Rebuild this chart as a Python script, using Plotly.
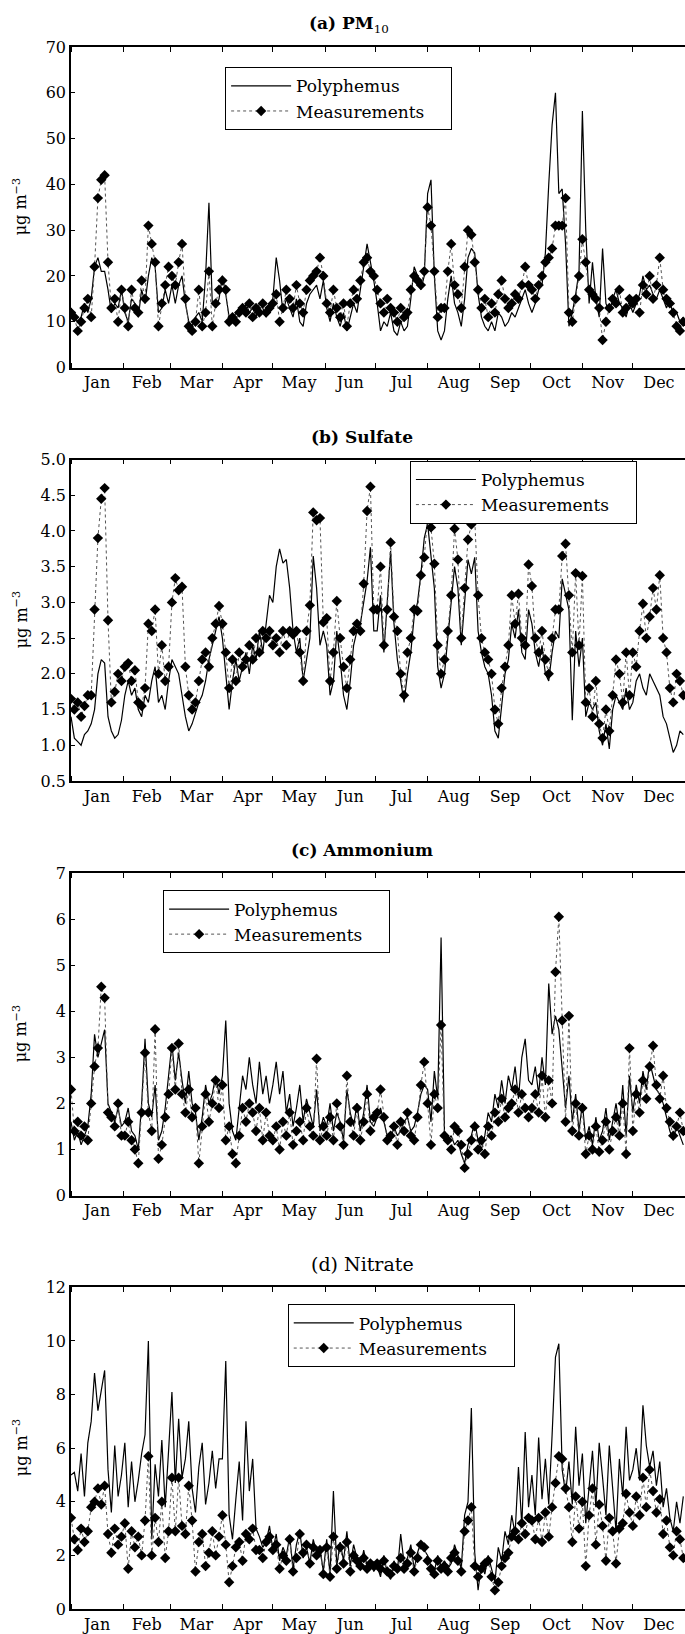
import pandas as pd
import plotly.graph_objects as go
from plotly.subplots import make_subplots

FONT = "DejaVu Serif"

# one value every second day, 1 Jan -> 31 Dec
days = pd.date_range("2005-01-01", "2005-12-31", freq="2D")

# ---- (a) PM10 ----
pm10_model = [
    13, 11, 10, 11, 14, 12, 15, 22, 24, 21, 21, 17, 12, 14, 13, 17,
    12, 10, 15, 14, 11, 17, 14, 20, 24, 22, 12, 13, 17, 14,
    18, 14, 18, 20, 14, 10, 9, 11, 12, 10, 20, 36, 14, 13, 15,
    20, 16, 11, 10, 12, 13, 12, 14, 12, 13, 11, 14, 13, 11, 14,
    15, 24, 19, 12, 15, 13, 11, 15, 10, 9, 14, 16, 17, 18, 15, 19,
    13, 10, 14, 11, 9, 12, 8, 11, 14, 12, 17, 21, 27, 23, 19,
    14, 8, 10, 9, 12, 8, 7, 10, 8, 9, 15, 22, 20, 17, 20,
    38, 41, 20, 8, 6, 8, 15, 20, 14, 12, 9, 15, 24, 26, 25, 16,
    11, 9, 8, 10, 8, 12, 11, 9, 10, 12, 11, 13, 15, 17, 14,
    12, 14, 17, 18, 25, 40, 53, 60, 38, 39, 27, 9, 12, 16, 21,
    56, 30, 14, 23, 15, 11, 26, 14, 12, 15, 17, 14, 13, 11, 14,
    12, 14, 16, 20, 17, 18, 16, 15, 17, 15, 13, 15, 11, 12, 10, 11,
]
pm10_obs = [
    12, 11, 8, 10, 13, 15, 11, 22, 37, 41, 42, 23, 13, 15, 10, 17,
    13, 9, 17, 13, 12, 19, 15, 31, 27, 23, 9, 14, 18, 22,
    20, 18, 23, 27, 15, 9, 8, 10, 17, 9, 12, 21, 9, 14, 17,
    19, 17, 10, 11, 10, 12, 13, 12, 14, 11, 13, 12, 14, 12, 13,
    14, 16, 10, 13, 17, 15, 13, 18, 14, 12, 17, 19, 20, 21, 24, 20,
    14, 12, 17, 13, 11, 14, 9, 14, 17, 15, 19, 23, 24, 21, 20,
    17, 14, 12, 15, 13, 12, 10, 13, 11, 12, 17, 20, 19, 18, 21,
    35, 31, 21, 11, 13, 13, 21, 27, 18, 16, 13, 22, 30, 29, 23, 17,
    13, 15, 11, 14, 12, 16, 19, 15, 13, 14, 16, 15, 18, 22, 18,
    17, 15, 18, 20, 23, 24, 26, 31, 31, 31, 37, 12, 10, 15, 20,
    28, 23, 17, 16, 15, 13, 6, 10, 13, 15, 14, 17, 12, 13, 15,
    14, 15, 12, 18, 16, 20, 15, 18, 24, 17, 15, 14, 12, 9, 8, 10,
]

# ---- (b) Sulfate ----
so4_model = [
    1.4, 1.1, 1.05, 1.0, 1.15, 1.2, 1.3, 1.5, 2.0, 2.2, 2.15, 1.4, 1.2, 1.1, 1.15, 1.35,
    1.7, 1.9, 1.7, 1.8, 1.5, 1.4, 1.7, 1.6, 1.9, 2.1, 1.6, 1.7, 1.5, 1.9,
    2.2, 2.1, 2.0, 1.7, 1.4, 1.2, 1.3, 1.45, 1.6, 1.7, 1.9, 2.2, 2.4, 2.6, 2.8,
    2.5, 2.0, 1.5, 1.9, 2.2, 1.9, 2.1, 2.3, 2.0, 2.4, 2.2, 2.6, 2.3, 2.7, 3.1,
    3.0, 3.5, 3.75, 3.55, 3.6, 3.2, 2.6, 2.3, 2.5, 1.9, 2.2, 2.5, 3.65, 3.2, 2.4, 2.6,
    2.4, 1.7, 1.9, 2.6, 2.2, 1.7, 1.5, 1.9, 2.4, 2.6, 2.7, 3.0, 3.3, 3.77, 2.6,
    2.6, 3.1, 2.3, 3.0, 3.72, 2.7, 2.2, 1.9, 1.6, 2.0, 2.3, 2.8, 3.0, 3.4, 3.9,
    4.1, 3.6, 3.2, 2.1, 1.8, 2.0, 2.5, 2.9, 3.5, 3.2, 2.4, 3.0, 3.6, 3.4, 3.63, 2.6,
    2.3, 2.1, 2.0, 1.7, 1.2, 1.1, 1.6, 2.0, 2.2, 2.7, 2.5, 2.9, 2.3, 2.2, 2.9,
    2.7, 2.3, 2.1, 2.4, 2.0, 1.9, 2.3, 2.6, 2.5, 3.33, 3.1, 2.9, 1.35, 2.6, 2.1,
    2.5, 1.4, 1.6, 1.5, 1.6, 1.2, 1.0, 1.3, 0.95, 1.5, 1.7, 1.6, 1.5, 1.8, 1.5,
    1.6, 1.9, 2.0, 1.8, 1.7, 2.0, 1.9, 1.8, 1.7, 1.4, 1.3, 1.1, 0.9, 1.0, 1.2, 1.15,
]
so4_obs = [
    1.65, 1.5, 1.6, 1.4, 1.55, 1.7, 1.7, 2.9, 3.9, 4.45, 4.6, 2.75, 1.6, 1.75, 2.0, 1.9,
    2.1, 2.15, 1.9, 2.05, 1.6, 1.55, 1.8, 2.7, 2.6, 2.9, 2.0, 2.4, 1.9, 2.1,
    3.0, 3.34, 3.17, 3.22, 2.1, 1.7, 1.5, 1.6, 1.9, 2.2, 2.3, 2.1, 2.5, 2.7, 2.95,
    2.7, 2.3, 1.8, 2.2, 1.9, 2.3, 2.1, 2.2, 2.4, 2.2, 2.5, 2.3, 2.6, 2.5, 2.6,
    2.4, 2.5, 2.3, 2.6, 2.4, 2.6, 2.55, 2.6, 2.3, 1.9, 2.6, 2.96, 4.26, 4.15, 4.18, 2.72,
    2.78, 1.9, 2.3, 3.02, 2.5, 2.1, 1.8, 2.2, 2.6, 2.7, 2.6, 3.26, 4.28, 4.62, 2.9,
    2.9, 3.5, 2.4, 2.9, 3.84, 2.8, 2.6, 2.0, 1.7, 2.3, 2.5, 2.9, 2.88, 3.38, 3.63,
    4.2, 4.05, 3.54, 2.4, 2.0, 2.2, 2.6, 3.1, 4.03, 3.6, 2.5, 3.2, 3.88, 4.09, 4.17, 3.1,
    2.5, 2.3, 2.2, 2.0, 1.5, 1.3, 1.8, 2.1, 2.4, 3.1, 2.7, 3.12, 2.5, 2.4, 3.53,
    3.23, 2.5, 2.3, 2.6, 2.2, 2.0, 2.5, 2.9, 2.9, 3.65, 3.82, 3.1, 2.3, 3.41, 2.4,
    3.37, 1.6, 1.8, 1.4, 1.9, 1.3, 1.1, 1.5, 1.2, 1.7, 2.2, 2.0, 1.6, 2.3, 1.7,
    2.3, 2.1, 2.6, 2.98, 2.5, 2.8, 3.2, 2.9, 3.38, 2.5, 2.3, 1.8, 1.6, 2.0, 1.9, 1.7,
]

# ---- (c) Ammonium ----
nh4_model = [
    1.6, 1.2, 1.4, 1.1, 1.3, 1.5, 2.2, 3.5, 3.0, 3.3, 3.6, 2.0, 1.8, 1.6, 1.9, 1.5,
    1.6, 1.9, 1.4, 1.3, 1.0, 2.0, 3.4, 2.0, 1.7, 2.4, 1.2, 1.4, 1.9, 2.6,
    3.3, 2.5, 3.1, 2.5, 2.0, 2.7, 2.0, 1.8, 1.2, 1.7, 2.4, 2.0, 2.2, 2.6, 2.2,
    2.6, 3.8, 2.0, 1.4, 1.2, 1.9, 2.6, 2.3, 3.0, 2.4, 2.0, 2.9, 2.2, 2.6, 2.0,
    2.4, 2.9, 2.2, 2.7, 1.8, 2.2, 1.5, 1.9, 2.4, 1.6, 2.1, 1.8, 1.5, 2.3, 1.4, 1.7,
    1.5, 2.0, 1.4, 1.8, 1.6, 1.2, 2.3, 1.8, 1.5, 2.0, 1.4, 1.8, 2.4, 1.6, 1.5,
    1.7, 1.9, 1.6, 1.3, 1.2, 1.5, 1.3, 1.4, 1.6, 1.7, 1.4, 1.5, 1.8, 2.2, 2.4,
    2.3, 1.6, 2.7, 2.1, 5.6, 1.4, 1.2, 1.3, 1.1, 1.2, 0.9, 0.7, 1.1, 1.3, 1.6, 1.2,
    1.0, 1.3, 1.8, 1.6, 2.2, 1.9, 2.5, 2.0, 2.6, 2.3, 2.8, 2.1, 3.0, 3.4, 2.5,
    2.4, 2.8, 2.2, 3.0, 2.4, 4.6, 3.5, 3.9, 3.6, 2.8, 1.9, 2.6, 1.6, 2.2, 1.4,
    2.0, 1.2, 1.5, 1.1, 1.7, 1.2, 1.4, 1.9, 1.2, 1.6, 2.0, 1.5, 2.4, 1.3, 2.6,
    1.8, 2.4, 2.0, 2.7, 2.3, 2.9, 2.6, 2.3, 2.2, 2.0, 1.7, 1.4, 1.2, 1.5, 1.3, 1.1,
]
nh4_obs = [
    2.3, 1.4, 1.6, 1.3, 1.5, 1.2, 2.0, 2.8, 3.2, 4.53, 4.29, 1.8, 1.7, 1.5, 2.0, 1.3,
    1.3, 1.6, 1.2, 1.0, 0.7, 1.8, 3.1, 1.8, 1.4, 3.61, 0.8, 1.1, 1.7, 2.2,
    3.2, 2.3, 3.3, 2.2, 1.8, 2.3, 1.7, 1.9, 0.7, 1.5, 2.2, 1.6, 2.0, 2.5, 1.9,
    2.4, 1.2, 1.5, 0.9, 0.7, 1.3, 1.9, 1.6, 2.0, 1.8, 1.4, 1.9, 1.2, 1.8, 1.3,
    1.2, 1.5, 1.0, 1.6, 1.3, 1.8, 1.1, 1.4, 1.6, 1.2, 1.9, 1.5, 1.3, 2.97, 1.2, 1.5,
    1.3, 1.7, 1.2, 2.0, 1.5, 1.1, 2.6, 1.6, 1.3, 1.9, 1.2, 1.6, 2.2, 1.4, 1.7,
    1.8, 2.3, 1.7, 1.2, 1.3, 1.5, 1.1, 1.6, 1.4, 1.8, 1.3, 1.2, 1.7, 2.4, 2.9,
    2.0, 1.1, 2.2, 1.9, 3.7, 1.3, 1.2, 1.0, 1.5, 1.4, 1.1, 0.6, 0.9, 1.2, 1.5, 1.0,
    1.2, 0.9, 1.5, 1.3, 1.8, 1.6, 2.1, 1.7, 1.9, 2.0, 2.3, 1.8, 2.2, 1.9, 1.7,
    1.9, 2.2, 1.8, 2.6, 1.7, 2.5, 2.0, 4.85, 6.05, 3.8, 1.6, 3.9, 1.4, 2.0, 1.3,
    1.9, 0.9, 1.3, 1.0, 1.5, 0.95, 1.2, 1.6, 1.0, 1.4, 1.7, 1.3, 2.0, 0.9, 3.2,
    1.4, 2.2, 1.8, 2.5, 2.1, 2.8, 3.25, 2.4, 2.1, 2.6, 1.9, 1.6, 1.3, 1.5, 1.8, 1.4,
]

# ---- (d) Nitrate ----
no3_model = [
    5.0, 5.1, 4.4, 5.8, 4.2, 6.2, 7.0, 8.8, 7.4, 8.1, 8.9, 5.2, 3.6, 6.1, 4.2, 5.0,
    6.2, 3.8, 5.5, 4.0, 4.8, 5.8, 6.5, 10.0, 2.6, 5.4, 4.2, 6.3, 3.8, 5.9,
    8.1, 4.7, 7.1, 4.9, 5.6, 7.0, 4.5, 3.6, 5.3, 6.2, 3.9, 4.7, 5.9, 4.5, 5.6,
    5.6, 9.25, 3.5, 2.6, 4.1, 5.5, 3.3, 7.0, 4.4, 5.6, 3.0, 2.7, 2.3, 2.5, 3.1,
    2.2, 2.8, 1.8, 2.3, 2.0, 2.7, 1.5, 2.4, 2.9, 1.9, 2.3, 1.7, 2.6, 2.1, 2.3, 1.4,
    2.6, 1.3, 4.4, 1.6, 2.5, 1.8, 2.9, 1.6, 2.4, 1.9, 1.5, 2.2, 1.6, 1.8, 1.4,
    1.6, 1.2, 2.0, 1.3, 1.1, 1.8, 1.4, 2.8, 1.7, 1.9, 2.4, 1.5, 2.1, 2.5, 2.2,
    2.0, 1.6, 1.4, 2.0, 1.6, 1.8, 1.5, 1.7, 2.4, 2.0, 1.5, 3.5, 4.0, 7.5, 2.1, 0.7,
    1.7, 1.3, 2.0, 1.5, 1.0, 2.3, 1.8, 2.9, 2.4, 3.5, 2.8, 5.3, 3.1, 6.6, 3.8,
    5.0, 3.5, 6.4, 4.1, 5.6, 3.9, 6.5, 9.4, 9.9, 5.2, 4.3, 5.5, 3.9, 6.8, 4.6,
    5.8, 3.2, 4.6, 5.9, 3.8, 6.2, 4.9, 3.5, 6.1, 4.4, 2.9, 5.6, 4.2, 6.8, 4.8,
    5.2, 6.0, 4.8, 7.6, 6.1, 5.3, 5.9, 4.6, 5.5, 3.8, 4.5, 3.4, 2.9, 4.0, 3.2, 4.2,
]
no3_obs = [
    3.4, 2.6, 2.2, 3.0, 2.5, 2.9, 3.8, 4.0, 4.5, 3.9, 4.6, 2.8, 2.1, 3.0, 2.4, 2.7,
    3.2, 1.5, 2.9, 2.3, 2.7, 2.0, 3.3, 5.7, 2.0, 3.4, 2.5, 4.0, 1.9, 2.9,
    4.9, 2.9, 4.9, 3.1, 2.8, 4.6, 3.3, 1.4, 2.5, 2.8, 1.6, 2.1, 2.9, 2.0, 2.7,
    3.5, 2.4, 1.0, 1.6, 2.3, 2.5, 1.8, 2.8, 2.6, 3.0, 2.2, 2.2, 1.9, 2.5, 2.7,
    2.2, 2.4, 1.5, 2.0, 1.8, 2.6, 1.4, 1.9, 2.8, 2.1, 2.4, 1.7, 2.3, 2.0, 2.2, 1.3,
    2.3, 1.2, 2.7, 1.5, 2.3, 1.7, 2.5, 1.4, 2.0, 1.8, 1.6, 1.9, 1.5, 1.7, 1.6,
    1.7, 1.5, 1.8, 1.4, 1.3, 1.6, 1.5, 1.9, 1.5, 1.7, 2.1, 1.4, 1.9, 2.4, 2.3,
    1.8, 1.5, 1.3, 1.8, 1.5, 1.6, 1.4, 1.9, 2.1, 1.8, 1.4, 2.9, 3.3, 3.8, 1.6, 1.2,
    1.5, 1.7, 1.8, 1.2, 0.7, 1.0, 1.6, 1.9, 2.1, 2.7, 2.9, 2.6, 3.2, 2.8, 3.4,
    3.3, 2.6, 3.4, 2.5, 3.6, 2.7, 3.8, 4.7, 5.7, 5.6, 4.5, 3.8, 2.5, 4.2, 3.0,
    4.0, 1.6, 3.5, 4.5, 2.4, 3.9, 3.1, 1.8, 3.4, 2.9, 1.7, 3.0, 3.2, 4.3, 3.6,
    3.1, 4.2, 3.5, 4.9, 3.8, 5.2, 4.4, 3.6, 4.1, 2.8, 3.3, 2.3, 2.0, 2.9, 2.6, 1.9,
]

panels = [
    dict(title="<b>(a) PM</b><sub>10</sub>", tsize=17, tx=0.452,
         model=pm10_model, obs=pm10_obs, yrange=[0, 70], dtick=10, fmt=None),
    dict(title="<b>(b) Sulfate</b>", tsize=17, tx=0.474,
         model=so4_model, obs=so4_obs, yrange=[0.5, 5.0], dtick=0.5, fmt=".1f"),
    dict(title="<b>(c) Ammonium</b>", tsize=17, tx=0.474,
         model=nh4_model, obs=nh4_obs, yrange=[0, 7], dtick=1, fmt=None),
    dict(title="(d) Nitrate", tsize=19, tx=0.474,
         model=no3_model, obs=no3_obs, yrange=[0, 12], dtick=2, fmt=None),
]

# layout (paper fractions of the plotting area)
domains = [(0.7948, 1.0), (0.5301, 0.7359), (0.2647, 0.4712), (0.0, 0.2059)]
legend_xy = [(0.251, 0.987), (0.552, 0.735), (0.150, 0.460), (0.353, 0.195)]

fig = make_subplots(rows=4, cols=1)
tick_font = dict(family=FONT, size=16, color="black")
pad = "\u00a0" * 4

for i, p in enumerate(panels):
    leg = "legend" if i == 0 else f"legend{i + 1}"
    fig.add_trace(go.Scatter(x=days, y=p["model"], name="Polyphemus", mode="lines",
                             line=dict(color="black", width=1.2), legend=leg),
                  row=i + 1, col=1)
    fig.add_trace(go.Scatter(x=days, y=p["obs"], name="Measurements" + pad,
                             mode="lines+markers",
                             line=dict(color="#555555", width=1, dash="dot"),
                             marker=dict(symbol="diamond", size=8, color="black"),
                             legend=leg),
                  row=i + 1, col=1)

    fig.update_yaxes(domain=list(domains[i]), range=p["yrange"], dtick=p["dtick"],
                     tickformat=p["fmt"], row=i + 1, col=1)

    lx, ly = legend_xy[i]
    fig.update_layout({leg: dict(x=lx, y=ly, xanchor="left", yanchor="top",
                                 itemwidth=60, bordercolor="black", borderwidth=1,
                                 bgcolor="white",
                                 font=dict(family=FONT, size=17, color="black"))})

    mid = (domains[i][0] + domains[i][1]) / 2
    fig.add_annotation(text=p["title"], xref="paper", yref="paper", x=p["tx"],
                       y=domains[i][1] + 0.0147, xanchor="center", yanchor="middle",
                       showarrow=False,
                       font=dict(family=FONT, size=p["tsize"], color="black"))
    fig.add_annotation(text="μg m<sup>−3</sup>", xref="paper", yref="paper", x=-0.083,
                       y=mid, textangle=-90, xanchor="center", yanchor="middle",
                       showarrow=False, font=dict(family=FONT, size=16, color="black"))

fig.update_xaxes(type="date", range=["2005-01-01", "2006-01-01"], dtick="M1",
                 tickformat="%b", ticklabelmode="period", ticks="inside", ticklen=5,
                 tickcolor="black", showline=True, linecolor="black", linewidth=1.5,
                 mirror="ticks", showgrid=False, zeroline=False, tickfont=tick_font)
fig.update_yaxes(ticks="inside", ticklen=4, tickcolor="black", showline=True,
                 linecolor="black", linewidth=1.5, showgrid=False, zeroline=False,
                 tickfont=tick_font)

fig.update_layout(width=685, height=1634, margin=dict(l=71, r=0, t=47, b=23),
                  plot_bgcolor="white", paper_bgcolor="white", hovermode=False)

# drop the browser's default 8px page margin so the figure fills the window
fig.write_html("out.html", config={"displayModeBar": False},
               post_script="document.body.style.margin='0';"
                           "document.body.style.overflow='hidden';")
